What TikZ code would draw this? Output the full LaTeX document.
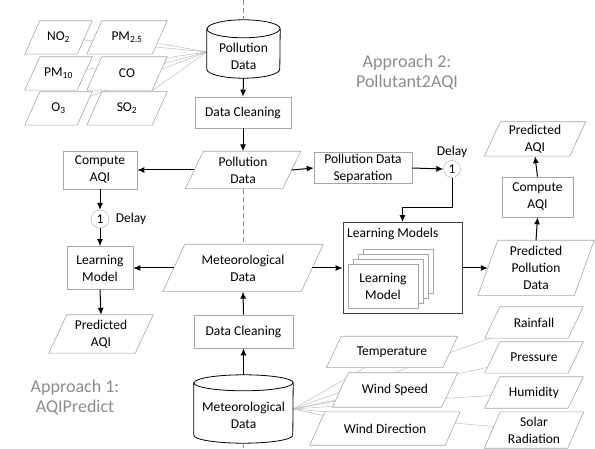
\documentclass[tikz,border=0pt]{standalone}
\usepackage{fontspec}
\setmainfont{Carlito}
\usetikzlibrary{arrows.meta,calc}
\pgfdeclarelayer{bg}
\pgfdeclarelayer{mid}
\pgfsetlayers{bg,mid,main}
\definecolor{lgray}{HTML}{A6A6A6}
\definecolor{fgray}{HTML}{BDBDBD}
\definecolor{tgray}{HTML}{8C8C8C}
\definecolor{dgray}{HTML}{404040}
\newcommand\dfont{\fontsize{13.5}{17}\selectfont}
\newcommand\afont{\fontsize{18}{20}\selectfont}
\begin{document}
\begin{tikzpicture}[x=1pt,y=1pt,
 every node/.style={font=\dfont, text=black},
 pnode/.style={rectangle, draw=none, inner sep=1pt, align=center},
 paraline/.style={draw=lgray, fill=white, line width=0.6pt},
 box/.style={rectangle, draw=lgray, fill=white, align=center, inner sep=1pt, line width=0.6pt},
 delaycirc/.style={circle, draw=lgray, fill=white, inner sep=0pt, minimum size=18pt},
 arr/.style={-{Latex[length=7pt,width=6pt]}, line width=1pt, black},
 fan/.style={draw=fgray, line width=0.5pt},
 dashedline/.style={draw=tgray, line width=1pt, dash pattern=on 5pt off 3pt},
 cylnode/.style={rectangle, draw=none, inner sep=0pt},
 cylline/.style={draw=black, line width=0.8pt},
 approach/.style={font=\afont, text=tgray, align=center}
]
\useasboundingbox (0,0) rectangle (595,-449);

% pollutants
\node[pnode, minimum width=52pt, minimum height=33pt] (no2) at (58.5,-37.5) {NO\textsubscript{2}};
\node[pnode, minimum width=65pt, minimum height=33pt] (pm25) at (127,-37.5) {PM\textsubscript{2.5}};
\node[pnode, minimum width=52pt, minimum height=33pt] (pm10) at (58.5,-73.5) {PM\textsubscript{10}};
\node[pnode, minimum width=65pt, minimum height=33pt] (co) at (127,-73.5) {CO};
\node[pnode, minimum width=52pt, minimum height=33pt] (o3) at (58.5,-108.5) {O\textsubscript{3}};
\node[pnode, minimum width=65pt, minimum height=33pt] (so2) at (127,-108.5) {SO\textsubscript{2}};

% pollution cylinder
\node[cylnode, minimum width=73pt, minimum height=58pt] (pcyl) at (243.5,-49) {};
\node[align=center, inner sep=0pt] (pcyltext) at (243.5,-56) {Pollution\\Data};
\draw[cylline] ($(pcyl.north west)+(0,-9)$) -- ($(pcyl.south west)+(0,9)$)
  arc[start angle=180, end angle=360, x radius=36.5pt, y radius=9pt]
  -- ($(pcyl.north east)+(0,-9)$)
  arc[start angle=0, end angle=180, x radius=36.5pt, y radius=9pt] -- cycle;
\draw[cylline] ($(pcyl.north west)+(0,-9)$) arc[start angle=180, end angle=360, x radius=36.5pt, y radius=9pt];

\node[box, minimum width=96pt, minimum height=31pt] (dclean1) at (243,-112.5) {Data Cleaning};
\node[pnode, minimum width=97pt, minimum height=37pt] (pdata) at (243,-170) {Pollution\\Data};

% approach 1 left chain
\node[box, minimum width=74pt, minimum height=38pt] (compL) at (100,-170) {Compute\\AQI};
\node[delaycirc] (d1) at (100,-219) {1};
\node (d1lab) at (131,-219) {Delay};
\node[box, minimum width=66pt, minimum height=43pt] (learnL) at (100,-268) {Learning\\Model};
\node[pnode, minimum width=86pt, minimum height=38pt] (predaqiL) at (101,-334) {Predicted\\AQI};

\node[pnode, minimum width=138pt, minimum height=47pt] (mdata) at (243,-268) {Meteorological\\Data};
\node[box, minimum width=99pt, minimum height=33pt] (dclean2) at (243.5,-331.5) {Data Cleaning};

% met cylinder
\node[cylnode, minimum width=99pt, minimum height=68pt] (mcyl) at (243.5,-409) {};
\node[align=center, inner sep=0pt] (mcyltext) at (243.5,-415) {Meteorological\\Data};
\draw[cylline] ($(mcyl.north west)+(0,-8)$) -- ($(mcyl.south west)+(0,8)$)
  arc[start angle=180, end angle=360, x radius=49.5pt, y radius=8pt]
  -- ($(mcyl.north east)+(0,-8)$)
  arc[start angle=0, end angle=180, x radius=49.5pt, y radius=8pt] -- cycle;
\draw[cylline] ($(mcyl.north west)+(0,-8)$) arc[start angle=180, end angle=360, x radius=49.5pt, y radius=8pt];

% approach 2
\node[box, minimum width=98pt, minimum height=31pt] (sep) at (363,-168) {Pollution Data\\Separation};
\node[delaycirc, minimum size=17pt] (d2) at (452,-169) {1};
\node (d2lab) at (452,-152) {Delay};
\coordinate (bend) at (452,-208);

\node[rectangle, draw=dgray, line width=0.9pt, fill=white, minimum width=119pt, minimum height=91pt] (lmbox) at (402.5,-268) {};
\node[anchor=west, inner sep=0pt] (lmtitle) at (347,-234) {Learning Models};
\node[box, minimum width=70pt, minimum height=44pt] (card1) at (398,-271) {};
\node[box, minimum width=70pt, minimum height=44pt] (card2) at (393,-276) {};
\node[box, minimum width=70pt, minimum height=44pt] (card3) at (388,-281) {};
\node[box, minimum width=70pt, minimum height=44pt] (card4) at (383,-286) {Learning\\Model};

\node[pnode, minimum width=96pt, minimum height=55pt] (predpol) at (536,-268) {Predicted\\Pollution\\Data};
\node[box, minimum width=71pt, minimum height=40pt] (compR) at (537.5,-197) {Compute\\AQI};
\node[pnode, minimum width=85pt, minimum height=34pt] (predaqiR) at (535,-139) {Predicted\\AQI};

% met parameters
\node[pnode, minimum width=116pt, minimum height=31pt] (temp) at (392,-352) {Temperature};
\node[pnode, minimum width=109pt, minimum height=34pt] (wspeed) at (395,-390) {Wind Speed};
\node[pnode, minimum width=135pt, minimum height=33pt] (wdir) at (385,-428.5) {Wind Direction};
\node[pnode, minimum width=83pt, minimum height=31pt] (rain) at (534,-322.5) {Rainfall};
\node[pnode, minimum width=83pt, minimum height=31pt] (press) at (534,-357.5) {Pressure};
\node[pnode, minimum width=83pt, minimum height=31pt] (humid) at (534,-392.5) {Humidity};
\node[pnode, minimum width=83pt, minimum height=36pt] (solar) at (534,-430) {Solar\\Radiation};

\node[approach] (ap2) at (407,-72) {Approach 2:\\Pollutant2AQI};
\node[approach] (ap1) at (75,-397) {Approach 1:\\AQIPredict};

\coordinate (topend) at (243.5,0);
\coordinate (botend) at (243.5,-449);

% parallelogram outlines
\begin{pgfonlayer}{mid}
\foreach \n/\o in {no2/15,pm25/15,pm10/15,co/15,o3/15,so2/15,pdata/18,mdata/22,predaqiL/18,predpol/20,predaqiR/16,temp/15,wspeed/16,wdir/15,rain/15,press/15,humid/15,solar/16}
  \draw[paraline] ($(\n.north west)+(\o/2,0)$) -- ($(\n.north east)+(\o/2,0)$)
    -- ($(\n.south east)+(-\o/2,0)$) -- ($(\n.south west)+(-\o/2,0)$) -- cycle;
\end{pgfonlayer}

% fan lines behind
\begin{pgfonlayer}{bg}
\coordinate (pfan) at ($(pcyl.west)+(0,-3)$);
\foreach \n in {no2,pm25,pm10,co,o3,so2} \draw[fan] (pfan) -- (\n.center);
\foreach \n in {temp,wspeed,wdir,rain,press,humid,solar} \draw[fan] (mcyl.east) -- (\n.center);
\end{pgfonlayer}

% dashed
\draw[dashedline] (topend) -- (pcyl.north);
\draw[dashedline] (pdata.south) -- (mdata.north);
\draw[dashedline] (mcyl.south) -- (botend);

% arrows
\draw[arr] (pcyl.south) -- (dclean1.north);
\draw[arr] (dclean1.south) -- (pdata.north);
\draw[arr] (pdata.west) -- (compL.east);
\draw[arr] (compL.south) -- (d1.north);
\draw[arr] (d1.south) -- (learnL.north);
\draw[arr] (mdata.west) -- (learnL.east);
\draw[arr] (learnL.south) -- (predaqiL.north);
\draw[arr] (dclean2.north) -- (mdata.south);
\draw[arr] (mcyl.north) -- (dclean2.south);
\draw[arr] (pdata.east) -- (sep.west);
\draw[arr] (sep.east) -- (d2.west);
\draw[arr] (d2.south) -- (bend) -| (lmbox.north);
\draw[arr] (mdata.east) -- (lmbox.west);
\draw[arr] (lmbox.east) -- (predpol.west);
\draw[arr] (predpol.north) -- (compR.south);
\draw[arr] (compR.north) -- (predaqiR.south);
\end{tikzpicture}
\end{document}
